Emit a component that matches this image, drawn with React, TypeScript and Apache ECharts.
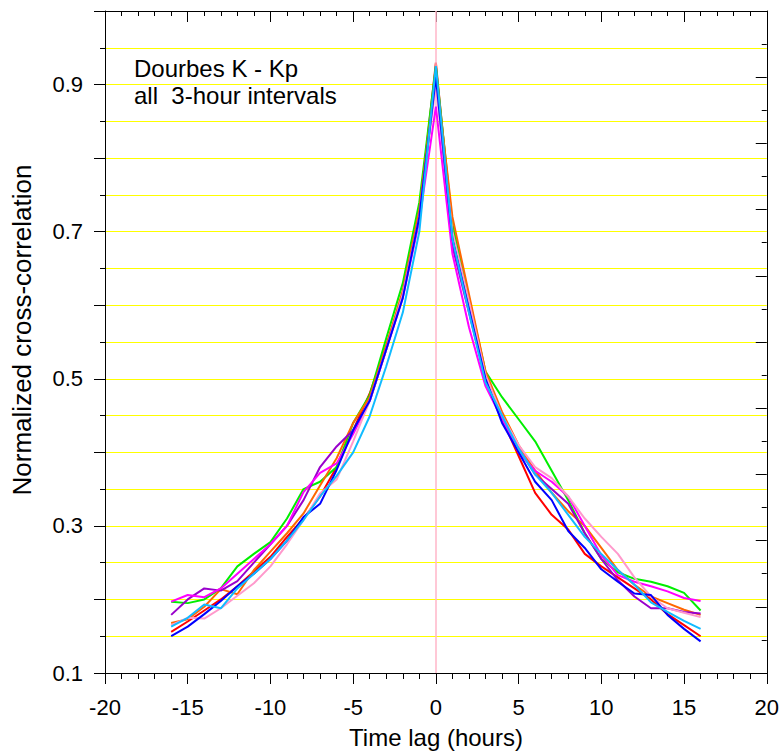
import React, { useEffect, useRef } from "react";
import * as echarts from "echarts";

const lags = [-16,-15,-14,-13,-12,-11,-10,-9,-8,-7,-6,-5,-4,-3,-2,-1,0,1,2,3,4,5,6,7,8,9,10,11,12,13,14,15,16];

const redVals = [0.156,0.170,0.185,0.200,0.218,0.238,0.258,0.285,0.310,0.340,0.380,0.430,0.480,0.545,0.615,0.725,0.930,0.700,0.605,0.505,0.445,0.395,0.345,0.315,0.295,0.262,0.245,0.230,0.215,0.200,0.180,0.165,0.150];
const greenVals = [0.197,0.195,0.200,0.215,0.245,0.262,0.278,0.310,0.350,0.360,0.380,0.440,0.478,0.555,0.630,0.740,0.925,0.710,0.610,0.510,0.475,0.445,0.415,0.375,0.335,0.290,0.255,0.237,0.228,0.224,0.218,0.209,0.185];
const magentaVals = [0.197,0.206,0.203,0.215,0.235,0.255,0.275,0.300,0.346,0.372,0.385,0.425,0.470,0.540,0.610,0.715,0.870,0.670,0.570,0.490,0.445,0.400,0.375,0.360,0.340,0.300,0.260,0.233,0.224,0.218,0.211,0.202,0.198];
const purpleVals = [0.179,0.200,0.215,0.212,0.225,0.250,0.275,0.300,0.335,0.380,0.408,0.430,0.470,0.540,0.615,0.720,0.910,0.680,0.590,0.500,0.450,0.405,0.370,0.350,0.330,0.290,0.255,0.226,0.204,0.188,0.188,0.183,0.181];
const orangeVals = [0.168,0.173,0.190,0.214,0.207,0.240,0.265,0.290,0.317,0.355,0.392,0.440,0.475,0.545,0.620,0.730,0.915,0.720,0.615,0.510,0.455,0.410,0.375,0.345,0.320,0.300,0.270,0.240,0.220,0.204,0.195,0.186,0.179];
const pinkVals = [0.165,0.175,0.174,0.188,0.205,0.222,0.245,0.275,0.308,0.344,0.363,0.415,0.470,0.540,0.615,0.720,0.900,0.700,0.605,0.505,0.450,0.410,0.380,0.365,0.340,0.310,0.285,0.262,0.230,0.204,0.188,0.182,0.176];
const blueVals = [0.150,0.163,0.180,0.198,0.218,0.235,0.255,0.280,0.312,0.330,0.376,0.430,0.470,0.540,0.610,0.720,0.910,0.690,0.595,0.500,0.440,0.400,0.360,0.335,0.293,0.270,0.241,0.224,0.208,0.206,0.179,0.160,0.143];
const cyanVals = [0.163,0.175,0.193,0.188,0.215,0.235,0.255,0.280,0.308,0.340,0.368,0.400,0.449,0.517,0.590,0.700,0.925,0.690,0.590,0.495,0.450,0.405,0.370,0.345,0.315,0.285,0.262,0.240,0.220,0.196,0.183,0.171,0.160];

const seriesList = [
  { name: "red", color: "#ff0000", vals: redVals },
  { name: "green", color: "#00ee00", vals: greenVals },
  { name: "orange", color: "#ff6600", vals: orangeVals },
  { name: "purple", color: "#9900cc", vals: purpleVals },
  { name: "magenta", color: "#ff00ff", vals: magentaVals },
  { name: "pink", color: "#ff99cc", vals: pinkVals },
  { name: "blue", color: "#0000ff", vals: blueVals },
  { name: "cyan", color: "#11bbff", vals: cyanVals },
];

const annotationLines = ["Dourbes K - Kp", "all  3-hour intervals"];
const xName = "Time lag (hours)";
const yName = "Normalized cross-correlation";

const FONT = "'Liberation Sans', Arial, sans-serif";

export default function App() {
  const ref = useRef<HTMLDivElement>(null);
  useEffect(() => {
    if (!ref.current) return;
    const chart = echarts.init(ref.current, null, { renderer: "svg" });
    const L = 105, T = 11, R = 15, B = 78;
    const option: any = {
      animation: false,
      backgroundColor: "#ffffff",
      grid: { left: L, top: T, right: R, bottom: B, containLabel: false },
      xAxis: [
        {
          type: "value", position: "bottom", min: -20, max: 20, interval: 5,
          axisLine: { show: true, onZero: false, lineStyle: { color: "#000", width: 1 } },
          axisTick: { show: true, inside: false, length: 11, lineStyle: { color: "#000" } },
          minorTick: { show: true, splitNumber: 5, length: 6, lineStyle: { color: "#000" } },
          axisLabel: { color: "#000", fontSize: 22, fontFamily: FONT, margin: 23 },
          splitLine: { show: false },
        },
        {
          type: "value", position: "top", min: -20, max: 20, interval: 5,
          axisLine: { show: true, onZero: false, lineStyle: { color: "#000", width: 1 } },
          axisTick: { show: true, inside: true, length: 11, lineStyle: { color: "#000" } },
          minorTick: { show: true, splitNumber: 5, length: 5, lineStyle: { color: "#000" } },
          axisLabel: { show: false },
          splitLine: { show: false },
        },
      ],
      yAxis: [
        {
          type: "value", position: "left", min: 0.1, max: 1.0, interval: 0.1,
          axisLine: { show: true, onZero: false, lineStyle: { color: "#000", width: 1 } },
          axisTick: { show: true, inside: false, length: 11, lineStyle: { color: "#000" } },
          minorTick: { show: true, splitNumber: 2, length: 5, lineStyle: { color: "#000" } },
          axisLabel: {
            color: "#000", fontSize: 22, fontFamily: FONT, margin: 22,
            formatter: (v: number) => {
              const k = Math.round(v * 10);
              return k % 2 === 1 ? (k / 10).toFixed(1) : "";
            },
          },
          splitLine: { show: true, lineStyle: { color: "#ffff00", width: 1 } },
          minorSplitLine: { show: true, lineStyle: { color: "#ffff00", width: 1 } },
        },
        {
          type: "value", position: "right", min: 0, max: 20, interval: 2,
          axisLine: { show: true, onZero: false, lineStyle: { color: "#000", width: 1 } },
          axisTick: { show: true, inside: true, length: 11, lineStyle: { color: "#000" } },
          minorTick: { show: true, splitNumber: 2, length: 5, lineStyle: { color: "#000" } },
          axisLabel: { show: false },
          splitLine: { show: false },
        },
      ],
      graphic: [
        {
          type: "text", left: 134, top: 56,
          style: { text: annotationLines[0], fontSize: 24, fontFamily: FONT, fill: "#000" },
        },
        {
          type: "text", left: 134, top: 83,
          style: { text: annotationLines[1], fontSize: 24, fontFamily: FONT, fill: "#000", whiteSpace: "pre" },
        },
        {
          type: "text", x: 436, y: 737,
          style: { text: xName, fontSize: 24, fontFamily: FONT, fill: "#000", align: "center", verticalAlign: "middle" },
        },
        {
          type: "text", x: 22, y: 330, rotation: Math.PI / 2,
          style: { text: yName, fontSize: 26, fontFamily: FONT, fill: "#000", align: "center", verticalAlign: "middle" },
        },
      ],
      series: [
        {
          type: "line", name: "zero", data: [], xAxisIndex: 0, yAxisIndex: 0, z: 1,
          markLine: {
            silent: true, symbol: ["none", "none"], label: { show: false },
            lineStyle: { color: "#ffb6c8", width: 1.5, type: "solid" },
            data: [{ xAxis: 0 }],
          },
        },
        ...seriesList.map((s, i) => ({
          type: "line", name: s.name, xAxisIndex: 0, yAxisIndex: 0,
          showSymbol: false, symbol: "none", z: 2 + i,
          lineStyle: { color: s.color, width: 2 },
          itemStyle: { color: s.color },
          data: lags.map((x, j) => [x, s.vals[j]]),
        })),
      ],
    };
    chart.setOption(option);
    return () => chart.dispose();
  }, []);
  return (
    <div
      ref={ref}
      style={{ position: "absolute", left: 0, top: 0, width: 782, height: 751, background: "#fff" }}
    />
  );
}
